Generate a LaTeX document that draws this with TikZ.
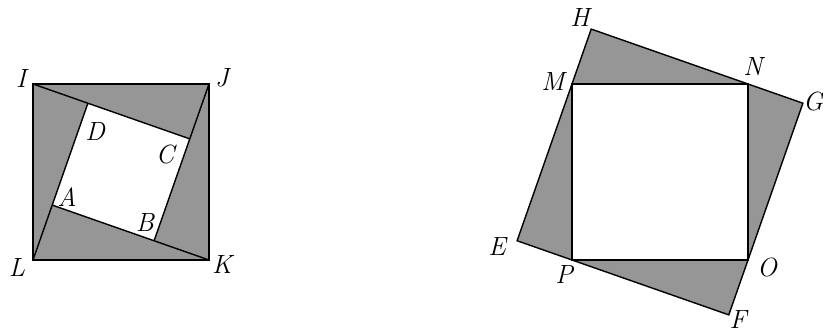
\documentclass[tikz,border=0pt]{standalone}
\usetikzlibrary{calc}
\definecolor{shadegray}{RGB}{150,150,150}

\begin{document}
\begin{tikzpicture}[
    x=0.02cm, y=0.02cm,
    line width=0.8pt,
    grayfill/.style={fill=shadegray},
    lbl/.style={
        font=\itshape\fontsize{15}{17}\selectfont,
        inner sep=0pt
    }
]
\useasboundingbox (0,0) rectangle (823,333);

% Sizes
\pgfmathsetmacro{\ang}{19.3}
\pgfmathsetmacro{\lega}{176*sin(\ang)}
\pgfmathsetmacro{\legb}{176*cos(\ang)}

% Left square
\coordinate (L) at (33,73);
\coordinate (K) at (209,73);
\coordinate (J) at (209,249);
\coordinate (I) at (33,249);
\coordinate (A) at ($(L)+({90-\ang}:\lega)$);
\coordinate (D) at ($(L)+({90-\ang}:\legb)$);
\coordinate (C) at ($(I)+({-\ang}:\legb)$);
\coordinate (B) at ($(J)+({-90-\ang}:\legb)$);

\fill[grayfill] (I) rectangle (K);
\fill[white] (A) -- (B) -- (C) -- (D) -- cycle;
\draw (I) -- (J) -- (K) -- (L) -- cycle;
\draw (I) -- (C) (J) -- (B) (K) -- (A) (L) -- (D);

% Right square
\coordinate (P) at (572,73);
\coordinate (O) at (748,73);
\coordinate (N) at (748,249);
\coordinate (M) at (572,249);
\coordinate (H) at ($(M)+({90-\ang}:\lega)$);
\coordinate (G) at ($(N)+({-\ang}:\lega)$);
\coordinate (F) at ($(O)+({-90-\ang}:\lega)$);
\coordinate (E) at ($(P)+({180-\ang}:\lega)$);

\fill[grayfill] (H) -- (G) -- (F) -- (E) -- cycle;
\fill[white] (M) rectangle (O);
\draw (H) -- (G) -- (F) -- (E) -- cycle;
\draw (M) -- (N) -- (O) -- (P) -- cycle;

% Labels
\node[lbl] (lI) at (21,254) {I};
\node[lbl] (lJ) at (222,255) {J};
\node[lbl] (lK) at (222,68) {K};
\node[lbl] (lL) at (17,65) {L};
\node[lbl] (lD) at (95,201) {D};
\node[lbl] (lC) at (165,178) {C};
\node[lbl] (lA) at (67,136) {A};
\node[lbl] (lB) at (145,110) {B};
\node[lbl] (lH) at (580,315) {H};
\node[lbl] (lN) at (753,266) {N};
\node[lbl] (lG) at (813,231) {G};
\node[lbl] (lM) at (553,251) {M};
\node[lbl] (lE) at (497,86) {E};
\node[lbl] (lP) at (564,58) {P};
\node[lbl] (lO) at (767,65) {O};
\node[lbl] (lF) at (738,13) {F};

\end{tikzpicture}
\end{document}
